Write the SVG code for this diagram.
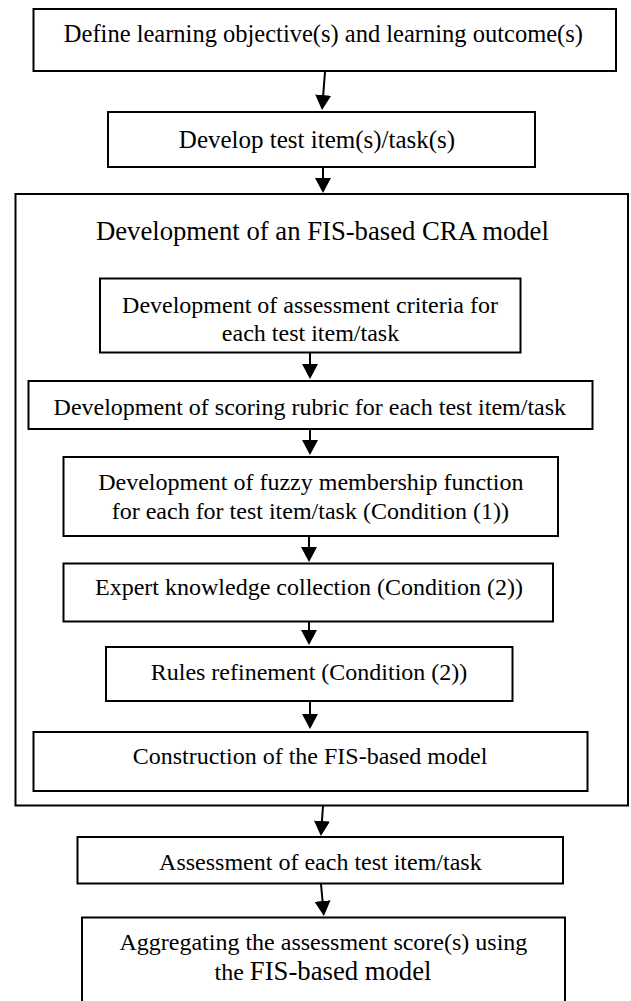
<svg xmlns="http://www.w3.org/2000/svg" width="631" height="1001" viewBox="0 0 631 1001">
  <defs>
    <!-- solid triangular arrowhead; tip sits 10px past the end of the shaft -->
    <marker id="head" viewBox="0 0 15 16" refX="5" refY="8" markerWidth="15" markerHeight="16" markerUnits="userSpaceOnUse" orient="auto">
      <path d="M0,0 L15,8 L0,16 Z" fill="#000"/>
    </marker>
    <style>
      .box { fill: #fff; stroke: #000; stroke-width: 2; }
      .frame { fill: none; stroke: #000; stroke-width: 2; }
      .lbl { font-family: "Liberation Serif", "Times New Roman", serif; font-size: 24px; fill: #000; text-anchor: middle; }
      .title { font-size: 26.7px; }
      .big { font-size: 26.7px; }
      .link { fill: none; stroke: #000; stroke-width: 2; marker-end: url(#head); }
    </style>
  </defs>
  <rect width="631" height="1001" fill="#fff"/>

  <!-- outer frame: FIS-based CRA model stage -->
  <g id="cra-model">
    <rect class="frame" x="15.5" y="194" width="612.5" height="611.5"/>
    <text class="lbl title" x="322.4" y="240">Development of an FIS-based CRA model</text>
  </g>

  <g id="objectives">
    <rect class="box" x="33.5" y="9" width="582.5" height="62"/>
    <text class="lbl" x="323.4" y="42" style="font-size:24.5px">Define learning objective(s) and learning outcome(s)</text>
  </g>

  <g id="test-items">
    <rect class="box" x="108" y="112" width="427" height="55"/>
    <text class="lbl" x="317" y="147.5" style="font-size:25px">Develop test item(s)/task(s)</text>
  </g>

  <g id="criteria">
    <rect class="box" x="100" y="278.5" width="420.5" height="74"/>
    <text class="lbl" x="310" y="312.5">Development of assessment criteria for</text>
    <text class="lbl" x="310.5" y="340.5">each test item/task</text>
  </g>

  <g id="rubric">
    <rect class="box" x="28.5" y="381" width="564" height="48"/>
    <text class="lbl" x="309.8" y="415">Development of scoring rubric for each test item/task</text>
  </g>

  <g id="membership">
    <rect class="box" x="63.5" y="457" width="494.5" height="79"/>
    <text class="lbl" x="310.8" y="490">Development of fuzzy membership function</text>
    <text class="lbl" x="310.3" y="519">for each for test item/task (Condition (1))</text>
  </g>

  <g id="expert-knowledge">
    <rect class="box" x="63.5" y="563.5" width="489.5" height="58"/>
    <text class="lbl" x="309" y="595">Expert knowledge collection (Condition (2))</text>
  </g>

  <g id="rules">
    <rect class="box" x="106" y="647" width="406.5" height="54"/>
    <text class="lbl" x="309" y="680">Rules refinement (Condition (2))</text>
  </g>

  <g id="construction">
    <rect class="box" x="33.5" y="732" width="554" height="59"/>
    <text class="lbl" x="310" y="764">Construction of the FIS-based model</text>
  </g>

  <g id="assessment">
    <rect class="box" x="77.5" y="837" width="485.5" height="46.5"/>
    <text class="lbl" x="320.4" y="870">Assessment of each test item/task</text>
  </g>

  <g id="aggregation">
    <rect class="box" x="82" y="917.5" width="483" height="100"/>
    <text class="lbl" x="323.4" y="950">Aggregating the assessment score(s) using</text>
    <text class="lbl" x="323" y="980">the <tspan class="big">FIS-based model</tspan></text>
  </g>

  <!-- connectors -->
  <g id="connectors">
    <path class="link" d="M325,72 L322.8,100"/>
    <path class="link" d="M323,168 L323,183"/>
    <path class="link" d="M310,353 L310,369"/>
    <path class="link" d="M310,430 L310,445"/>
    <path class="link" d="M309,537 L309,552"/>
    <path class="link" d="M309,622 L309,635"/>
    <path class="link" d="M310,702 L310,719"/>
    <path class="link" d="M323,806 L321.6,826"/>
    <path class="link" d="M321,884 L323,906"/>
  </g>
</svg>
